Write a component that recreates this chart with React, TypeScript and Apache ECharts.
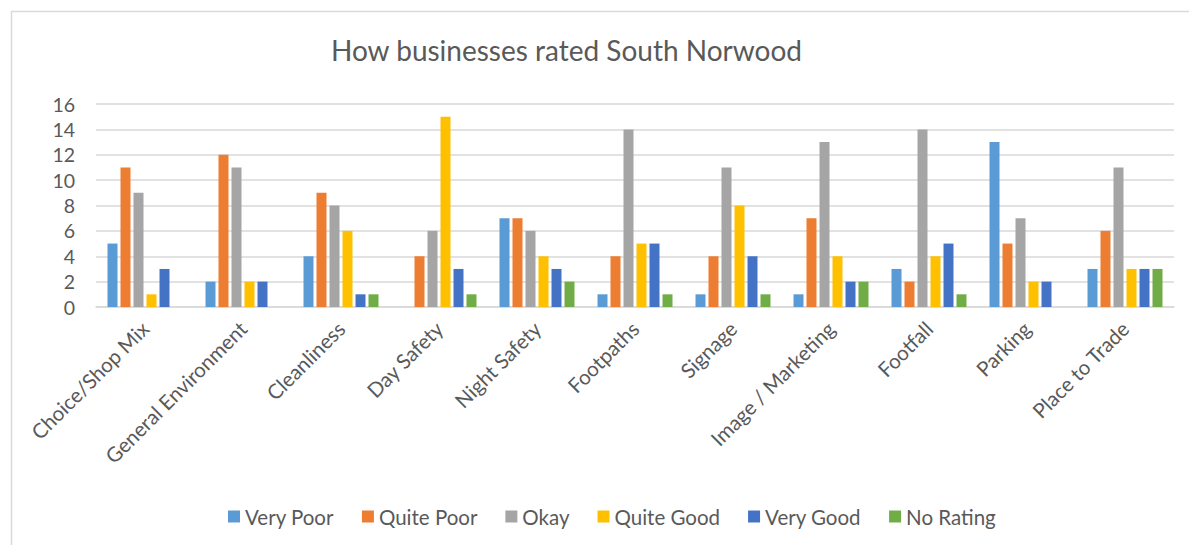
import React, { useEffect, useRef } from "react";
import * as echarts from "echarts";

const categories = [
  "Choice/Shop Mix",
  "General Environment",
  "Cleanliness",
  "Day Safety",
  "Night Safety",
  "Footpaths",
  "Signage",
  "Image / Marketing",
  "Footfall",
  "Parking",
  "Place to Trade",
];

const veryPoor = [5, 2, 4, 0, 7, 1, 1, 1, 3, 13, 3];
const quitePoor = [11, 12, 9, 4, 7, 4, 4, 7, 2, 5, 6];
const okay = [9, 11, 8, 6, 6, 14, 11, 13, 14, 7, 11];
const quiteGood = [1, 2, 6, 15, 4, 5, 8, 4, 4, 2, 3];
const veryGood = [3, 2, 1, 3, 3, 5, 4, 2, 5, 2, 3];
const noRating = [0, 0, 1, 1, 2, 1, 1, 2, 1, 0, 3];

const seriesNames = ["Very Poor", "Quite Poor", "Okay", "Quite Good", "Very Good", "No Rating"];
const seriesData = [veryPoor, quitePoor, okay, quiteGood, veryGood, noRating];
const colors = ["#5b9bd5", "#ed7d31", "#a5a5a5", "#ffc000", "#4472c4", "#70ad47"];

const FONT = "Lato, 'Open Sans', sans-serif";

export default function App() {
  const ref = useRef<HTMLDivElement>(null);
  useEffect(() => {
    document.body.style.margin = "0";
    if (!ref.current) return;
    const chart = echarts.init(ref.current, undefined, { renderer: "svg" });
    chart.setOption({
      animation: false,
      color: colors,
      textStyle: { fontFamily: FONT },
      title: {
        text: "How businesses rated South Norwood",
        left: 326,
        top: 31,
        textStyle: { fontFamily: FONT, fontSize: 28, fontWeight: "normal", color: "#595959" },
      },
      legend: {
        top: 501,
        left: 223,
        itemWidth: 12,
        itemHeight: 12,
        itemGap: 28,
        icon: "rect",
        textStyle: { fontFamily: FONT, fontSize: 20.5, color: "#595959" },
        data: seriesNames,
      },
      grid: { left: 96, right: 15, top: 104, bottom: 545 - 307, containLabel: false },
      xAxis: {
        type: "category",
        data: categories,
        axisTick: { show: false },
        axisLine: { lineStyle: { color: "#d9d9d9", width: 1.5 } },
        axisLabel: {
          rotate: 45,
          interval: 0,
          margin: 18,
          fontFamily: FONT,
          fontSize: 20.5,
          color: "#595959",
        },
      },
      yAxis: {
        type: "value",
        min: 0,
        max: 16,
        interval: 2,
        axisLine: { show: false },
        axisTick: { show: false },
        splitLine: { lineStyle: { color: "#d9d9d9", width: 1.5 } },
        axisLabel: { fontFamily: FONT, fontSize: 19.5, color: "#595959", margin: 21 },
      },
      series: seriesNames.map((name, i) => ({
        name,
        type: "bar",
        data: seriesData[i],
        barWidth: 10,
        barGap: "30%",
        barCategoryGap: "23%",
        itemStyle: { color: colors[i] },
      })),
      graphic: [
        {
          type: "line",
          shape: { x1: 11.5, y1: 11, x2: 11.5, y2: 545 },
          style: { stroke: "#d9d9d9", lineWidth: 1.5 },
        },
        {
          type: "line",
          shape: { x1: 11, y1: 11.5, x2: 1189, y2: 11.5 },
          style: { stroke: "#d9d9d9", lineWidth: 1.5 },
        },
      ],
    });
    return () => chart.dispose();
  }, []);
  return <div ref={ref} style={{ width: 1189, height: 545 }} />;
}
